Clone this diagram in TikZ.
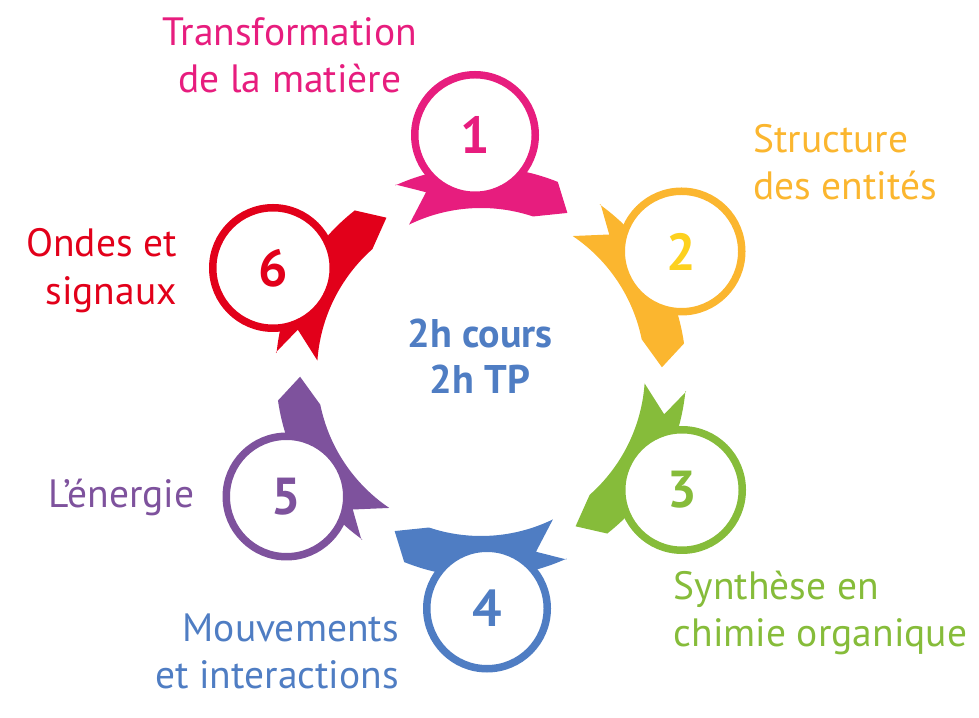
\documentclass[tikz,border=0pt]{standalone}
\usepackage{fontspec}
\setmainfont{PT Sans}

\definecolor{rose}{HTML}{E71D7E}
\definecolor{orangeclair}{HTML}{FBB62F}
\definecolor{jaune}{HTML}{FDD11E}
\definecolor{vert}{HTML}{86BC3A}
\definecolor{bleu}{HTML}{4F7DC3}
\definecolor{violet}{HTML}{7E529D}
\definecolor{rouge}{HTML}{E2001A}

\tikzset{
  ring/.style={circle, draw=#1, line width=7.5pt, fill=white, minimum size=120.5pt,
    inner sep=0pt, font=\fontsize{52}{52}\selectfont\bfseries},
  theme/.style={text=#1, inner sep=0pt, font=\fontsize{39.5}{47.5}\selectfont},
}

% ruban : angle du cercle, couleur
\newcommand{\ribbon}[2]{%
  \fill[#2] (#1+23:206) -- (#1+15.5:188) -- (#1+24.5:164)
    arc[start angle=#1+24.5, end angle=#1-20, radius=164pt]
    -- (#1-30:181) -- (#1-23.5:205)
    arc[start angle=#1-23.5, end angle=#1+23, radius=206pt] -- cycle;}

\begin{document}
\begin{tikzpicture}[x=1pt,y=1pt]
      \useasboundingbox (0,0) rectangle (979,717);

      \begin{scope}[shift={(481,345)}]
      \ribbon{91.5}{rose}
      \ribbon{31.5}{orangeclair}
      \ribbon{-28.5}{vert}
      \ribbon{-88.5}{bleu}
      \ribbon{-148.5}{violet}
      \ribbon{-208.5}{rouge}
      \end{scope}

      \node[ring=rose, text=rose] (c1) at (475,582) {1};
      \node[ring=orangeclair, text=jaune] (c2) at (681.5,465.5) {2};
      \node[ring=vert, text=vert] (c3) at (682,227) {3};
      \node[ring=bleu, text=bleu] (c4) at (487,108.5) {4};
      \node[ring=violet, text=violet] (c5) at (286.5,220.5) {5};
      \node[ring=rouge, text=rouge] (c6) at (273,449) {6};

      % base = ligne du bas
      \node[text=bleu, align=center, anchor=base, font=\fontsize{40}{45.6}\selectfont\bfseries]
        (centre) at (480,323.7) {2h cours\\2h TP};

      \node[theme=rose, align=center, anchor=base] (t1) at (290,624.3) {Transformation\\de la matière};
      \node[theme=orangeclair, align=left, anchor=base west] (t2) at (753,517) {Structure\\des entités};
      \node[theme=vert, align=left, anchor=base west] (t3) at (673.5,70) {Synthèse en\\chimie organique};
      \node[theme=bleu, align=right, anchor=base east] (t4) at (399,28) {Mouvements\\et interactions};
      \node[theme=violet, anchor=base west] (t5) at (48,209) {L’énergie};
      \node[theme=rouge, align=right, anchor=base east] (t6) at (177,412.5) {Ondes et\\signaux};
\end{tikzpicture}
\end{document}
